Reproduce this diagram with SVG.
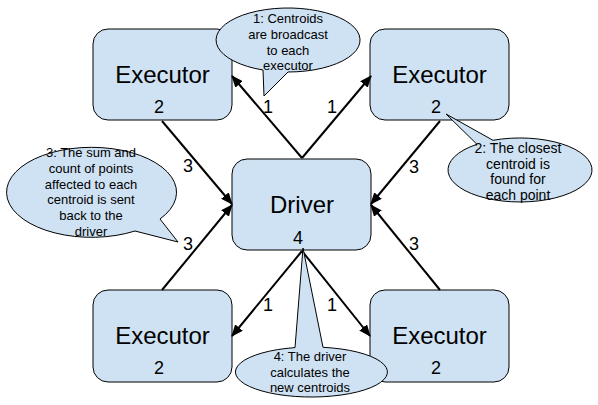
<svg xmlns="http://www.w3.org/2000/svg" width="598" height="405" viewBox="0 0 598 405">
<style>
.box{fill:#cfe2f3;stroke:#000;stroke-width:1}
.call{fill:#cfe2f3;stroke:#000;stroke-width:1}
.big{font-family:"Liberation Sans",Arial,sans-serif;font-size:24px;fill:#000;text-anchor:middle}
.num{font-family:"Liberation Sans",Arial,sans-serif;font-size:18px;fill:#000;text-anchor:middle}
.ct{font-family:"Liberation Sans",Arial,sans-serif;font-size:13px;fill:#000;text-anchor:middle}
.ct14{font-size:14px}
.arr{stroke:#000;stroke-width:2;fill:none;marker-end:url(#ah)}
</style>
<defs>
<marker id="ah" markerUnits="userSpaceOnUse" markerWidth="12" markerHeight="10" refX="11" refY="5" orient="auto">
<path d="M0,0 L12,5 L0,10 z" fill="#000"/>
</marker>
</defs>
<g id="exec-tl"><rect class="box" x="93" y="29" width="139" height="91" rx="15"/><text class="big" x="162.5" y="83">Executor</text><text class="num" x="159" y="113">2</text></g>
<g id="exec-tr"><rect class="box" x="370" y="29" width="139" height="91" rx="15"/><text class="big" x="439.5" y="83">Executor</text><text class="num" x="436" y="113">2</text></g>
<g id="exec-bl"><rect class="box" x="93" y="290" width="139" height="92" rx="15"/><text class="big" x="162.5" y="344">Executor</text><text class="num" x="159" y="374">2</text></g>
<g id="exec-br"><rect class="box" x="370" y="290" width="139" height="92" rx="15"/><text class="big" x="439.5" y="344">Executor</text><text class="num" x="436" y="374">2</text></g>
<g id="driver"><rect class="box" x="232" y="159" width="139" height="91" rx="15"/><text class="big" x="302" y="213">Driver</text><text class="num" x="298" y="244">4</text></g>
<g id="connectors">
<line class="arr" x1="302" y1="158" x2="232" y2="76"/>
<line class="arr" x1="302" y1="158" x2="371" y2="76"/>
<line class="arr" x1="162" y1="121" x2="232" y2="204"/>
<line class="arr" x1="440" y1="121" x2="371" y2="204"/>
<line class="arr" x1="162" y1="290" x2="232" y2="205"/>
<line class="arr" x1="440" y1="290" x2="371" y2="205"/>
<line class="arr" x1="302" y1="251" x2="232" y2="336"/>
<line class="arr" x1="302" y1="251" x2="370" y2="336"/>
<text class="num" x="268" y="113">1</text>
<text class="num" x="332" y="113">1</text>
<text class="num" x="188" y="172">3</text>
<text class="num" x="414" y="173">3</text>
<text class="num" x="188" y="250">3</text>
<text class="num" x="414" y="250">3</text>
<text class="num" x="268" y="311">1</text>
<text class="num" x="332" y="311">1</text>
</g>
<g id="callout-1"><path class="call" d="M263,70 L264,96 L288,72 A72,32 0 1 0 263,70 Z"/>
<text class="ct" x="288" y="23">1: Centroids</text><text class="ct" x="288" y="38.5">are broadcast</text><text class="ct" x="288" y="54.5">to each</text><text class="ct" x="288" y="70">executor</text></g>
<g id="callout-2"><path class="call" d="M477,144.3 L446,114 L493,140.3 A72,32 0 1 1 477,144.3 Z"/>
<text class="ct ct14" x="518" y="153">2: The closest</text><text class="ct ct14" x="518" y="168.5">centroid is</text><text class="ct ct14" x="518" y="184">found for</text><text class="ct ct14" x="518" y="200">each point</text></g>
<g id="callout-3"><path class="call" d="M160,219 L178,242 L135,231 A85,45 0 1 1 160,219 Z"/>
<text class="ct" x="91" y="157">3: The sum and</text><text class="ct" x="91" y="173">count of points</text><text class="ct" x="91" y="188.5">affected to each</text><text class="ct" x="91" y="204">centroid is sent</text><text class="ct" x="91" y="220">back to the</text><text class="ct" x="91" y="236">driver</text></g>
<g id="callout-4"><path class="call" d="M295,347.6 L303,248 L323,347.3 A76,25 0 1 1 295,347.6 Z"/>
<text class="ct" x="310" y="361">4: The driver</text><text class="ct" x="310" y="377">calculates the</text><text class="ct" x="310" y="392">new centroids</text></g>
</svg>
